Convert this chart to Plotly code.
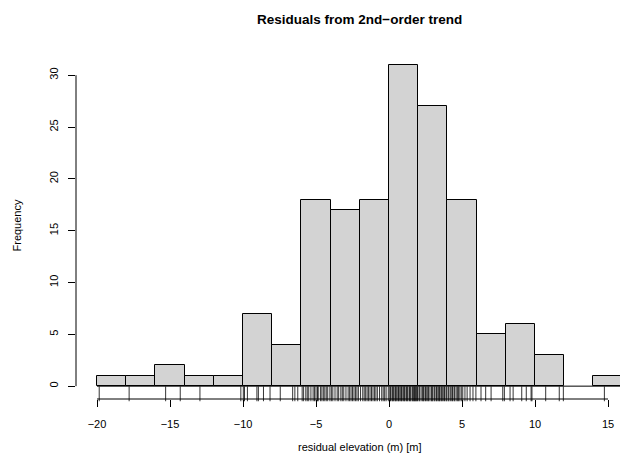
import plotly.graph_objects as go

# Residual values (read from rug / histogram counts)
res_neg_far = [-19.85, -17.8, -15.3, -14.3, -12.95, -10.15]
res_m10_m8 = [-9.98, -9.9, -9.7, -9.05, -8.95, -8.6, -8.15]
res_m8_m6 = [-7.45, -6.6, -6.45, -6.25]
res_m6_m4 = [-5.95, -5.85, -5.7, -5.6, -5.5, -5.35, -5.2, -5.1, -5.0,
             -4.9, -4.85, -4.7, -4.6, -4.5, -4.4, -4.3, -4.2, -4.05]
res_m4_m2 = [-3.95, -3.85, -3.7, -3.55, -3.45, -3.3, -3.2, -3.1, -2.95,
             -2.8, -2.7, -2.6, -2.5, -2.4, -2.3, -2.2, -2.1]
res_m2_0 = [-1.95, -1.8, -1.7, -1.6, -1.5, -1.4, -1.3, -1.2, -1.1, -1.0,
            -0.9, -0.8, -0.65, -0.5, -0.4, -0.3, -0.2, -0.05]
res_0_2 = [0.05, 0.1, 0.2, 0.25, 0.3, 0.4, 0.45, 0.5, 0.6, 0.65, 0.7, 0.8,
           0.85, 0.9, 1.0, 1.05, 1.1, 1.2, 1.25, 1.3, 1.4, 1.45, 1.5, 1.6,
           1.65, 1.7, 1.75, 1.8, 1.85, 1.9, 1.95]
res_2_4 = [2.05, 2.1, 2.2, 2.3, 2.35, 2.4, 2.5, 2.55, 2.65, 2.7, 2.8, 2.9,
           2.95, 3.0, 3.1, 3.15, 3.25, 3.3, 3.4, 3.45, 3.5, 3.6, 3.65, 3.75,
           3.8, 3.9, 3.95]
res_4_6 = [4.05, 4.1, 4.2, 4.3, 4.35, 4.45, 4.5, 4.6, 4.7, 4.75, 4.85, 4.95,
           5.05, 5.2, 5.35, 5.55, 5.75, 5.95]
res_pos_far = [6.3, 6.62, 6.99, 7.79, 7.9, 8.29, 8.5, 9.09, 9.4, 9.73, 9.79,
               10.73, 11.66, 11.94, 14.75]

residuals = (res_neg_far + res_m10_m8 + res_m8_m6 + res_m6_m4 + res_m4_m2 +
             res_m2_0 + res_0_2 + res_2_4 + res_4_6 + res_pos_far)

BIN_START, BIN_END, BIN_SIZE = -20, 16, 2
x_ticks = [-20, -15, -10, -5, 0, 5, 10, 15]
y_ticks = [0, 5, 10, 15, 20, 25, 30]

X_RANGE = [-21.44, 15.82]
Y_RANGE = [-1.24, 32.24]
FONT = "Liberation Sans, Arial, sans-serif"

fig = go.Figure()
fig.add_trace(go.Histogram(
    x=residuals,
    xbins=dict(start=BIN_START, end=BIN_END, size=BIN_SIZE),
    marker=dict(color="#D3D3D3", line=dict(color="black", width=1)),
    hoverinfo="skip",
))
# rug
fig.add_trace(go.Scatter(
    x=residuals, y=[-0.74] * len(residuals), mode="markers",
    marker=dict(symbol="line-ns", size=10.6,
                line=dict(color="black", width=0.8)),
    cliponaxis=False, hoverinfo="skip",
))

shapes = [
    # baseline of histogram (zero-count bins shown as a line)
    dict(type="line", xref="x", yref="y", x0=BIN_START, x1=BIN_END, y0=0, y1=0,
         line=dict(color="black", width=1)),
    # x axis line
    dict(type="line", xref="x", yref="paper", x0=x_ticks[0], x1=x_ticks[-1],
         y0=0, y1=0, line=dict(color="black", width=1)),
    # y axis line
    dict(type="line", xref="paper", yref="y", x0=0, x1=0,
         y0=y_ticks[0], y1=y_ticks[-1], line=dict(color="black", width=1)),
]

mid_x = (-21.44 + 17.44) / 2

fig.update_layout(
    width=620, height=466,
    margin=dict(l=76, r=0, t=52, b=67),
    paper_bgcolor="white", plot_bgcolor="white",
    showlegend=False, bargap=0,
    font=dict(family=FONT, size=11, color="black"),
    shapes=shapes,
    annotations=[
        dict(text="<b>Residuals from 2nd\u2212order trend</b>", xref="x",
             yref="paper", x=mid_x, y=1, yshift=33, showarrow=False,
             font=dict(size=13.5, family=FONT), xanchor="center",
             yanchor="middle"),
        dict(text="residual elevation (m) [m]", xref="x", yref="paper",
             x=mid_x, y=0, yshift=-48, showarrow=False,
             font=dict(size=11, family=FONT), xanchor="center",
             yanchor="middle"),
        dict(text="Frequency", xref="paper", yref="y", x=0, xshift=-60,
             y=(Y_RANGE[0] + Y_RANGE[1]) / 2, showarrow=False, textangle=-90,
             font=dict(size=11, family=FONT), xanchor="center",
             yanchor="middle"),
    ],
    xaxis=dict(range=X_RANGE, tickvals=x_ticks, ticks="outside", ticklen=7,
               tickcolor="black", showline=False, showgrid=False,
               zeroline=False, ticklabelstandoff=8,
               tickfont=dict(size=11, family=FONT)),
    yaxis=dict(range=Y_RANGE, tickvals=y_ticks, ticks="outside", ticklen=7,
               tickcolor="black", showline=False, showgrid=False,
               zeroline=False, tickangle=-90, ticklabelstandoff=6,
               tickfont=dict(size=11, family=FONT)),
)

fig.write_html("out.html")
